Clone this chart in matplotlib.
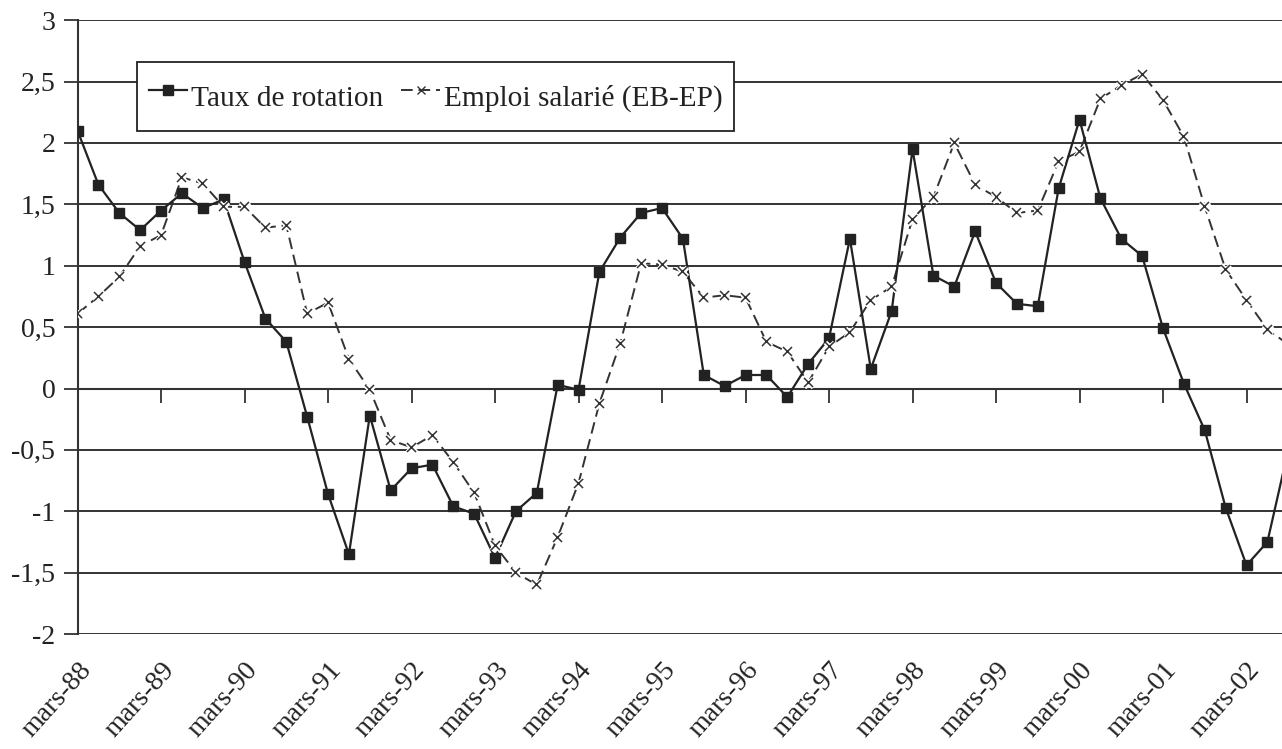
import numpy as np
import matplotlib.pyplot as plt
import matplotlib.patheffects as pe

plt.rcParams['font.family'] = ['Liberation Serif', 'DejaVu Serif']

# quarterly values, mars-88 onwards
taux_rotation = [2.10, 1.66, 1.43, 1.29, 1.45, 1.59, 1.47, 1.54, 1.03, 0.57,
                 0.38, -0.23, -0.86, -1.35, -0.22, -0.83, -0.65, -0.62, -0.96, -1.02,
                 -1.38, -1.00, -0.85, 0.03, -0.01, 0.95, 1.23, 1.43, 1.47, 1.22,
                 0.11, 0.02, 0.11, 0.11, -0.07, 0.20, 0.41, 1.22, 0.16, 0.63,
                 1.95, 0.92, 0.83, 1.28, 0.86, 0.69, 0.67, 1.63, 2.19, 1.55,
                 1.22, 1.08, 0.49, 0.04, -0.34, -0.97, -1.44, -1.25, -0.50]
emploi_salarie = [0.61, 0.75, 0.91, 1.16, 1.25, 1.72, 1.67, 1.48, 1.48, 1.31,
                  1.33, 0.61, 0.70, 0.24, -0.01, -0.42, -0.48, -0.38, -0.60, -0.85,
                  -1.28, -1.50, -1.60, -1.21, -0.77, -0.12, 0.37, 1.02, 1.01, 0.95,
                  0.74, 0.76, 0.74, 0.38, 0.30, 0.05, 0.34, 0.46, 0.72, 0.83,
                  1.38, 1.56, 2.00, 1.66, 1.56, 1.43, 1.45, 1.85, 1.93, 2.36,
                  2.47, 2.56, 2.35, 2.05, 1.48, 0.97, 0.72, 0.48, 0.36]
tick_labels = ["mars-88", "mars-89", "mars-90", "mars-91", "mars-92", "mars-93",
               "mars-94", "mars-95", "mars-96", "mars-97", "mars-98", "mars-99",
               "mars-00", "mars-01", "mars-02"]

x = np.arange(len(taux_rotation))
ink = "#222222"

fig = plt.figure(figsize=(12.82, 7.49), dpi=100)
ax = fig.add_axes([0.0605, 0.1535, 0.9395, 0.8195])

for v in np.arange(-2, 3.01, 0.5):
    if v != 0:
        ax.axhline(v, color="#333333", lw=1.4, zorder=1)

ln1, = ax.plot(x, taux_rotation, color=ink, lw=1.6, marker="s", ms=7.5,
               mfc=ink, mec=ink, zorder=4, label="Taux de rotation")
ln2, = ax.plot(x, emploi_salarie, color="#333333", lw=1.4, dashes=(6, 3),
               zorder=3, label="Emploi salarié (EB-EP)")
ax.plot(x, emploi_salarie, ls="none", marker="x", ms=6.5, mew=1.1, color="#333333",
        zorder=5, path_effects=[pe.withStroke(linewidth=3.5, foreground="white")])
ln2.set_marker("x")
ln2.set_markersize(6)

ax.set_xlim(0, 57.7)
ax.set_ylim(-2, 3)
ax.set_yticks(np.arange(-2, 3.01, 0.5))
ax.set_yticklabels([f"{v:g}".replace(".", ",") for v in np.arange(-2, 3.01, 0.5)])
ax.tick_params(axis="y", direction="out", length=10, width=1.3, color="#333333",
               labelsize=20, labelcolor=ink, pad=6)

ax.spines["top"].set_visible(False)
ax.spines["right"].set_visible(False)
ax.spines["left"].set_color("#333333")
ax.spines["left"].set_linewidth(1.5)
ax.spines["bottom"].set_position(("data", 0))
ax.spines["bottom"].set_color("#333333")
ax.spines["bottom"].set_linewidth(1.5)

ax.set_xticks(np.arange(0, 57, 4))
ax.tick_params(axis="x", direction="out", length=10, width=1.3, color="#333333",
               labelbottom=False)

sec = ax.secondary_xaxis("bottom")
sec.set_xticks(np.arange(0, 57, 4))
sec.set_xticklabels(tick_labels, rotation=48, ha="right", va="top",
                    rotation_mode="anchor", fontsize=20, color=ink)
sec.tick_params(length=0, pad=17)
sec.spines["bottom"].set_visible(False)

leg = ax.legend(handles=[ln1, ln2], loc="upper left", ncol=2,
                bbox_to_anchor=(137 / 1282, 1 - 62 / 749),
                bbox_transform=fig.transFigure, borderaxespad=0,
                fontsize=21.2, frameon=True, fancybox=False, framealpha=1,
                edgecolor="#222222", handlelength=1.3, handletextpad=0.15,
                columnspacing=0.6, borderpad=0.4, handleheight=2.0)
leg.get_frame().set_linewidth(1.3)
for t in leg.get_texts():
    t.set_color(ink)

fig.savefig("out.png", dpi=100)
